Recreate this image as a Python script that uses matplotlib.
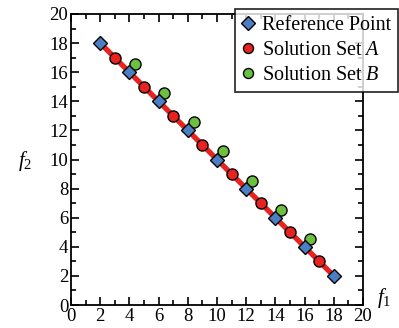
import matplotlib
matplotlib.use("Agg")
import matplotlib.pyplot as plt
from matplotlib.ticker import MultipleLocator

plt.rcParams['font.family'] = ['Liberation Serif', 'DejaVu Serif']
plt.rcParams['mathtext.fontset'] = 'custom'
plt.rcParams['mathtext.rm'] = 'Liberation Serif'
plt.rcParams['mathtext.it'] = 'Liberation Serif:italic'

ref_x = [2, 4, 6, 8, 10, 12, 14, 16, 18]
ref_y = [18, 16, 14, 12, 10, 8, 6, 4, 2]
a_x = [3, 5, 7, 9, 11, 13, 15, 17]
a_y = [17, 15, 13, 11, 9, 7, 5, 3]
b_x = [4.4, 6.4, 8.4, 10.4, 12.4, 14.4, 16.4]
b_y = [16.55, 14.55, 12.55, 10.55, 8.55, 6.55, 4.55]

fig = plt.figure(figsize=(3.99, 3.28), dpi=100)
ax = fig.add_axes([71/399, 23/328, 292/399, 291/328])

ax.plot([ref_x[0], ref_x[-1]], [ref_y[0], ref_y[-1]], color='#e8231f', lw=3.8, zorder=2, solid_capstyle='butt')
ax.plot(ref_x, ref_y, 'D', color='#4a7fc4', mec='black', mew=1.0, ms=7.5, ls='none', zorder=4, label='Reference Point')
ax.plot(a_x, a_y, 'o', color='#e8231f', mec='black', mew=1.0, ms=8, ls='none', zorder=3, label='Solution Set $A$')
ax.plot(b_x, b_y, 'o', color='#6cc040', mec='black', mew=1.0, ms=8, ls='none', zorder=3, label='Solution Set $B$')

ax.set_xlim(0, 20)
ax.set_ylim(0, 20)
ax.xaxis.set_major_locator(MultipleLocator(2))
ax.yaxis.set_major_locator(MultipleLocator(2))
ax.xaxis.set_minor_locator(MultipleLocator(1))
ax.yaxis.set_minor_locator(MultipleLocator(1))
ax.tick_params(which='both', direction='in', top=True, right=True, width=1.2, labelsize=13.5, pad=2)
ax.tick_params(which='major', length=6)
ax.tick_params(which='minor', length=3.5)
for s in ax.spines.values():
    s.set_linewidth(1.3)

fig.text(25/399, 1 - 161/328, '$f_2$', fontsize=15, ha='center', va='center')
fig.text(384/399, 1 - 298/328, '$f_1$', fontsize=15, ha='center', va='center')

leg = ax.legend(loc='upper right', bbox_to_anchor=(398/399, 1 - 9/328), bbox_transform=fig.transFigure,
                fontsize=14.5, frameon=True,
                fancybox=False, edgecolor='black', handlelength=0.6, handletextpad=0.4,
                borderpad=0.35, labelspacing=0.3, borderaxespad=0, markerscale=0.9)
leg.get_frame().set_linewidth(1.3)
leg.set_zorder(10)

fig.savefig('out.png', dpi=100)
